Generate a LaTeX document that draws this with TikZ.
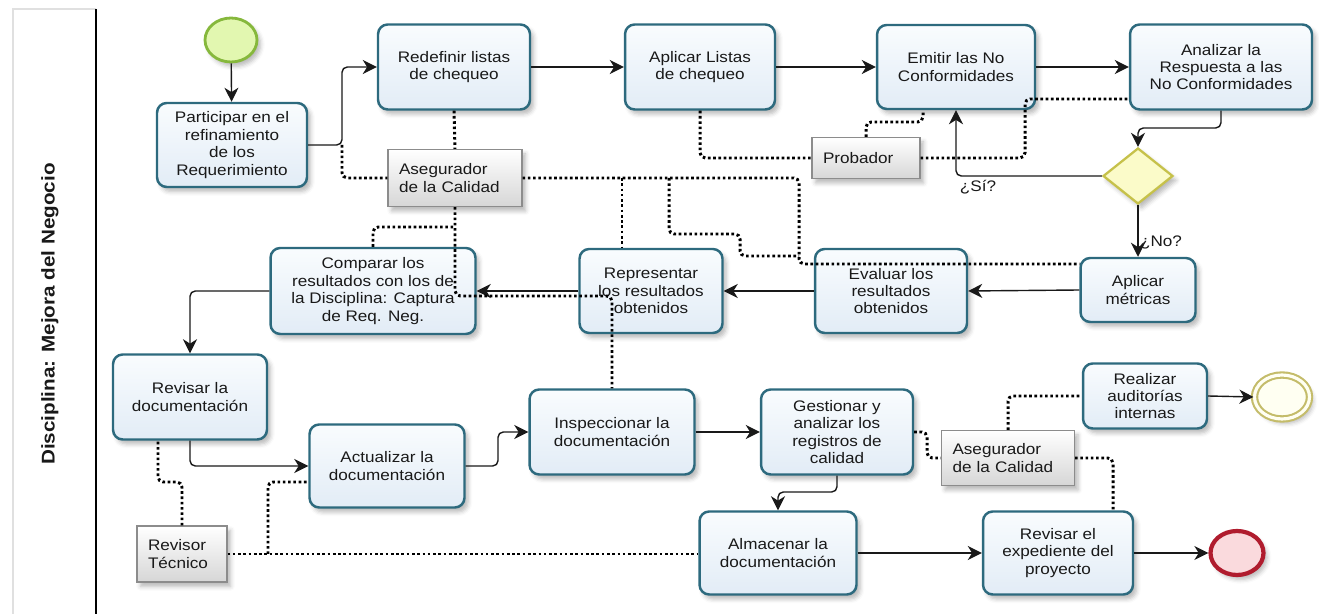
\documentclass[tikz,border=0pt]{standalone}
\usepackage{fontspec}
\setmainfont{Liberation Sans}[FakeStretch=1.12]
\usetikzlibrary{arrows.meta,shapes.geometric,shadows.blur}

\definecolor{taskline}{HTML}{2D6A7E}
\definecolor{tasktop}{HTML}{F9FCFE}
\definecolor{taskbot}{HTML}{E2ECF6}
\definecolor{startline}{HTML}{86B83C}
\definecolor{startfill}{HTML}{E2F7B0}
\definecolor{endline}{HTML}{B01C2E}
\definecolor{endfill}{HTML}{FADADD}
\definecolor{auxline}{HTML}{C4BC6A}
\definecolor{auxfill}{HTML}{FFFFF2}
\definecolor{gateline}{HTML}{C6C14A}
\definecolor{gatefill}{HTML}{FBFBC9}

\begin{document}
\begin{tikzpicture}[x=0.02cm,y=-0.02cm,
  every node/.style={font=\fontsize{8.7}{9.9}\selectfont, text=black!90},
  softshadow/.style={blur shadow={shadow xshift=2pt, shadow yshift=-2.5pt,
      shadow blur radius=2.5pt, shadow opacity=28}},
  task/.style 2 args={draw=taskline, line width=1.4pt, rounded corners=5.5pt,
      top color=tasktop, bottom color=taskbot, align=center, inner sep=1pt,
      minimum width=#1, minimum height=#2, softshadow},
  role/.style 2 args={draw=black!45, line width=0.6pt, top color=white,
      bottom color=black!16, align=left, inner xsep=0.22cm, inner ysep=1pt,
      text width=#1, minimum height=#2, softshadow},
  startev/.style={ellipse, draw=startline, line width=1.6pt, fill=startfill,
      minimum width=1.04cm, minimum height=0.88cm, inner sep=0pt, softshadow},
  endev/.style={ellipse, draw=endline, line width=2.4pt, fill=endfill,
      minimum width=1.06cm, minimum height=0.88cm, inner sep=0pt, softshadow},
  auxev/.style={ellipse, draw=auxline, line width=1.2pt, double=auxfill,
      double distance=1.8pt, fill=auxfill, minimum width=1.10cm,
      minimum height=0.88cm, inner sep=0pt, softshadow},
  gateway/.style={diamond, draw=gateline, line width=1.3pt, fill=gatefill,
      minimum width=1.40cm, minimum height=1.12cm, inner sep=0pt, softshadow},
  flow/.style={draw=black!90, line width=0.8pt, rounded corners=3pt,
      -{Stealth[length=8pt,width=8pt,inset=2.5pt]}},
  assoc/.style={draw=black, line width=1.7pt, dash pattern=on 1.5pt off 1.5pt,
      rounded corners=3pt},
  cond/.style={inner sep=1pt}
]
\useasboundingbox (0,0) rectangle (1319,614);

% lane frame and title
\draw[black!12, line width=0.6pt] (13,614) -- (13,9) -- (96,9);
\draw[line width=1pt] (96,9) -- (96,614);
\node[rotate=90, font=\fontsize{10.5}{12}\selectfont\bfseries] (lane) at (50,314)
  {Disciplina: Mejora del Negocio};

% events and gateway
\node[startev] (start) at (231,40) {};
\node[endev] (end) at (1237,553) {};
\node[auxev] (endY) at (1282,397) {};
\node[gateway] (gw) at (1138,176) {};

% tasks
\node[task={3.00cm}{1.68cm}] (t1) at (232,145) {Participar en el\\refinamiento\\de los\\Requerimiento};
\node[task={3.04cm}{1.70cm}] (t2) at (454,67) {Redefinir listas\\de chequeo};
\node[task={3.00cm}{1.70cm}] (t3) at (700,67) {Aplicar Listas\\de chequeo};
\node[task={3.16cm}{1.68cm}] (t4) at (956,67) {Emitir las No\\Conformidades};
\node[task={3.64cm}{1.70cm}] (t5) at (1221,67) {Analizar la\\Respuesta a las\\No Conformidades};
\node[task={2.30cm}{1.28cm}] (t6) at (1138,290) {Aplicar\\métricas};
\node[task={3.04cm}{1.68cm}] (t7) at (891,291) {Evaluar los\\resultados\\obtenidos};
\node[task={2.86cm}{1.68cm}] (t8) at (651,291) {Representar\\los resultados\\obtenidos};
\node[task={4.10cm}{1.72cm}] (t9) at (373,291) {Comparar los\\resultados con los de\\la Disciplina: Captura\\de Req. Neg.};
\node[task={3.08cm}{1.70cm}] (t10) at (190,397) {Revisar la\\documentación};
\node[task={3.10cm}{1.66cm}] (t11) at (387,466) {Actualizar la\\documentación};
\node[task={3.30cm}{1.70cm}] (t12) at (612,432) {Inspeccionar la\\documentación};
\node[task={3.04cm}{1.70cm}] (t13) at (837,432) {Gestionar y\\analizar los\\registros de\\calidad};
\node[task={3.14cm}{1.66cm}] (t14) at (778,553) {Almacenar la\\documentación};
\node[task={3.00cm}{1.66cm}] (t15) at (1058,553) {Revisar el\\expediente del\\proyecto};
\node[task={2.48cm}{1.30cm}] (t16) at (1145,396) {Realizar\\auditorías\\internas};

% roles
\node[role={2.24cm}{1.14cm}] (a1) at (455,178) {Asegurador\\de la Calidad};
\node[role={1.72cm}{0.82cm}] (a2) at (866,158) {Probador};
\node[role={2.22cm}{1.10cm}] (a3) at (1008,458) {Asegurador\\de la Calidad};
\node[role={1.36cm}{1.12cm}] (a4) at (182,554) {Revisor\\Técnico};

% junctions of the connectors
\coordinate (j1) at (342,145);
\coordinate (j2) at (799,264);
\coordinate (j3) at (622,178);
\coordinate (j4) at (669,178);
\coordinate (j5) at (923,122);
\coordinate (j6) at (1025,99);
\coordinate (j7) at (1113,458);
\coordinate (j8) at (158,482);
\coordinate (j9) at (268,554);
\coordinate (j10) at (268,482);

% sequence flows
\draw[flow] (start) -- (t1);
\draw[flow] (t1.east) -- (j1) |- (t2.west);
\draw[flow] (t2.east) -- (t3.west);
\draw[flow] (t3.east) -- (t4.west);
\draw[flow] (t4.east) -- (t5.west);
\draw[flow] (t5.south) -- (1221,128) -| (gw.north);
\draw[flow] (gw.west) -| (t4.south);
\node[cond] (si) at (978,187) {¿Sí?};
\draw[flow] (gw.south) -- (t6.north);
\node[cond] (no) at (1161,242) {¿No?};
\draw[flow] (t6.west) -- (t7.east);
\draw[flow] (t7.west) -- (t8.east);
\draw[flow] (t8.west) -- (t9.east);
\draw[flow] (t9.west) -| (t10.north);
\draw[flow] (t10.south) |- (t11.west);
\draw[flow] (t11.east) -- (498,466) |- (t12.west);
\draw[flow] (t12.east) -- (t13.west);
\draw[flow] (t13.south) -- (837,492) -| (t14.north);
\draw[flow] (t14.east) -- (t15.west);
\draw[flow] (t15.east) -- (end.west);
\draw[flow] (t16.east) -- (endY.west);

% associations with the roles
\draw[assoc] (j1) |- (a1.west);
\draw[assoc] (t2.south) -- (a1.north);
\draw[assoc] (a1.south) -- (455,296) -| (t12.north);
\draw[assoc] (t9.north) |- (455,227);
\draw[assoc] (a1.east) -| (j2) -- (j2 -| t6.west);
\draw[assoc] (j3) -- (j3 |- t8.north);
\draw[assoc] (j4) -- (669,234) -- (740,234) -- (740,256) -- (799,256);
\draw[assoc] (t3.south) |- (a2.west);
\draw[assoc] (a2.north) |- (j5) -- (j5 |- t4.south);
\draw[assoc] (a2.east) -| (j6) -- (j6 -| t5.west);
\draw[assoc] (t13.east) -- (927,432) |- (a3.west);
\draw[assoc] (a3.north) |- (t16.west);
\draw[assoc] (a3.east) -- (j7) -- (j7 |- t15.north);
\draw[assoc] (a4.north) |- (j8) -- (j8 |- t10.south);
\draw[assoc] (a4.east) -- (a4.east -| t14.west);
\draw[assoc] (j9) -- (j10) -- (j10 -| t11.west);
\end{tikzpicture}
\end{document}
